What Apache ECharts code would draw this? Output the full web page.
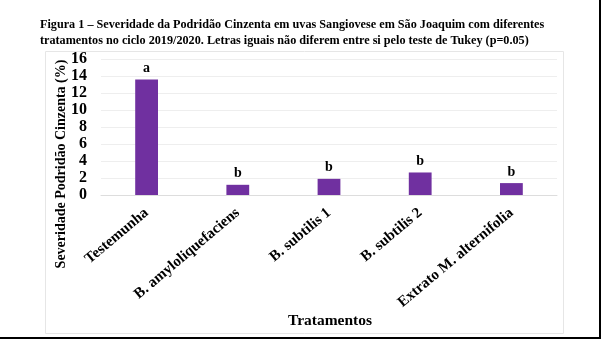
<!DOCTYPE html>
<html><head><meta charset="utf-8">
<script src="https://cdn.jsdelivr.net/npm/echarts@6/dist/echarts.min.js"></script>
<style>html,body{margin:0;padding:0;background:#fff;}#c{width:601px;height:339px;}</style>
</head><body><div id="c"></div>
<script>
var categories = ["Testemunha", "B. amyloliquefaciens", "B. subtilis 1", "B. subtilis 2", "Extrato M. alternifolia"];
var severity = [13.6, 1.2, 1.9, 2.65, 1.4];
var letters = ["a", "b", "b", "b", "b"];
var yTicks = [0, 2, 4, 6, 8, 10, 12, 14, 16];

var serif = '"Liberation Serif", "Times New Roman", serif';
var chart = echarts.init(document.getElementById('c'), null, {renderer: 'canvas'});
chart.setOption({
  animation: false,
  backgroundColor: '#fff',
  title: {
    text: 'Figura 1 – Severidade da Podridão Cinzenta em uvas Sangiovese em São Joaquim com diferentes\ntratamentos no ciclo 2019/2020. Letras iguais não diferem entre si pelo teste de Tukey (p=0.05)',
    left: 35, top: 12,
    textStyle: {fontFamily: serif, fontWeight: 'bold', fontSize: 12.2, color: '#000', lineHeight: 16}
  },
  grid: {left: 101, right: 44, top: 59, bottom: 144, containLabel: false},
  xAxis: {
    type: 'category', data: categories,
    axisLine: {show: true, lineStyle: {color: '#dddddd'}},
    axisTick: {show: false},
    axisLabel: {rotate: 40, interval: 0, margin: 16, fontFamily: serif, fontWeight: 'bold', fontSize: 15, color: '#000'}
  },
  yAxis: {
    type: 'value', min: yTicks[0], max: yTicks[yTicks.length - 1], interval: 2,
    axisLine: {show: false}, axisTick: {show: false},
    splitLine: {lineStyle: {color: '#eeeeee'}},
    axisLabel: {margin: 14, fontFamily: serif, fontWeight: 'bold', fontSize: 16, color: '#000'}
  },
  series: [{
    type: 'bar', data: severity, barWidth: '25%',
    itemStyle: {color: '#7030A0'},
    label: {show: true, position: 'top', distance: 4,
      formatter: function (p) { return letters[p.dataIndex]; },
      fontFamily: serif, fontWeight: 'bold', fontSize: 14, color: '#000'}
  }],
  graphic: [
    {type: 'rect', shape: {x: 45.5, y: 51.5, width: 518, height: 282}, style: {fill: 'none', stroke: '#e6e6e6', lineWidth: 1}, z: -1},
    {type: 'text', x: 61, y: 164, rotation: Math.PI / 2,
      style: {text: 'Severidade Podridão Cinzenta (%)', fontFamily: serif, fontWeight: 'bold', fontSize: 14, fill: '#000', textAlign: 'center', textVerticalAlign: 'middle'}},
    {type: 'text', x: 330, y: 321,
      style: {text: 'Tratamentos', fontFamily: serif, fontWeight: 'bold', fontSize: 15.5, fill: '#000', textAlign: 'center', textVerticalAlign: 'middle'}},
    {type: 'rect', shape: {x: 0, y: 337, width: 601, height: 2}, style: {fill: '#000'}},
    {type: 'rect', shape: {x: 599, y: 0, width: 2, height: 339}, style: {fill: '#000'}}
  ]
});
</script></body></html>
